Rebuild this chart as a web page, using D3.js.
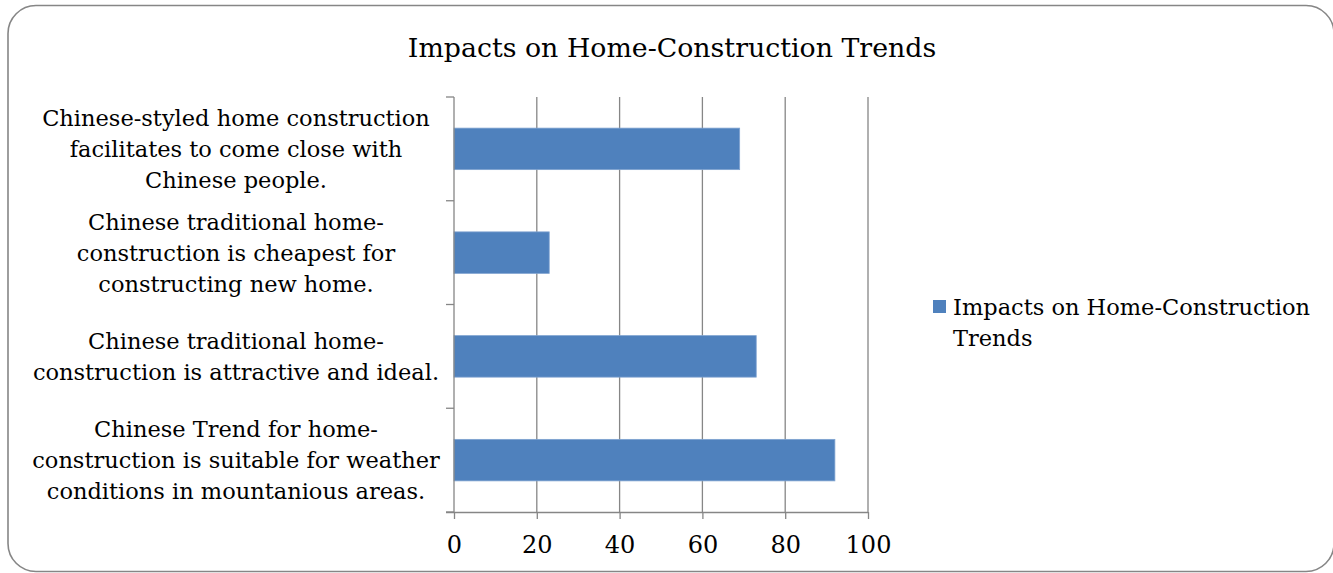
<!DOCTYPE html>
<html>
<head>
<meta charset="utf-8">
<script src="https://cdn.jsdelivr.net/npm/d3@7"></script>
<style>
  html, body { margin: 0; padding: 0; background: #fff; }
  svg { display: block; }
  text { font-family: "DejaVu Serif", "Liberation Serif", serif; fill: #000; }
</style>
</head>
<body>
<svg id="chart" width="1333" height="573"></svg>
<script>
// Survey categories (line breaks as laid out beside the axis), top to bottom
const categories = [
  "Chinese-styled home construction\nfacilitates to come close with\nChinese people.",
  "Chinese traditional home-\nconstruction is cheapest for\nconstructing new home.",
  "Chinese traditional home-\nconstruction is attractive and ideal.",
  "Chinese Trend for home-\nconstruction is suitable for weather\nconditions in mountanious areas."
];
const values = [69, 23, 73, 92];
const xTicks = [0, 20, 40, 60, 80, 100];
const seriesName = "Impacts on Home-Construction Trends";
const chartTitle = "Impacts on Home-Construction Trends";

const svg = d3.select("#chart");
const plot = { left: 454, right: 868, top: 97, bottom: 512 };
const barColor = "#4F81BD";
const gridColor = "#868686";
const fontSize = 22.5;

// outer frame
svg.append("rect")
  .attr("x", 8).attr("y", 5.5)
  .attr("width", 1326).attr("height", 566)
  .attr("rx", 28).attr("ry", 28)
  .attr("fill", "#fff").attr("stroke", gridColor).attr("stroke-width", 1.6);

// title
svg.append("text")
  .attr("x", 672).attr("y", 57)
  .attr("text-anchor", "middle")
  .attr("font-size", 26.8)
  .text(chartTitle);

const x = d3.scaleLinear().domain([0, 100]).range([plot.left, plot.right]);
const y = d3.scaleBand().domain(categories).range([plot.top, plot.bottom]).paddingInner(0.6).paddingOuter(0.3);
const yEdges = d3.scaleLinear().domain([0, categories.length]).range([plot.top, plot.bottom]);

// vertical gridlines
svg.append("g").selectAll("line")
  .data(xTicks.filter(d => d > 0))
  .join("line")
  .attr("x1", d => x(d)).attr("x2", d => x(d))
  .attr("y1", plot.top).attr("y2", plot.bottom)
  .attr("stroke", gridColor).attr("stroke-width", 1.3);

// bars
svg.append("g").selectAll("rect")
  .data(categories)
  .join("rect")
  .attr("x", x(0))
  .attr("y", d => y(d))
  .attr("width", (d, i) => x(values[i]) - x(0))
  .attr("height", y.bandwidth())
  .attr("fill", barColor)
  .attr("stroke", "#7FA3D0").attr("stroke-width", 0.8);

// x axis
const xAxis = d3.axisBottom(x).tickValues(xTicks).tickSize(7).tickPadding(17).tickFormat(d3.format("d"));
const gx = svg.append("g").attr("transform", `translate(0,${plot.bottom})`).call(xAxis);
gx.select(".domain").attr("stroke", gridColor).attr("stroke-width", 1.3)
  .attr("d", `M${plot.left - 8},0.5H${plot.right}`);
gx.selectAll(".tick line").attr("stroke", gridColor).attr("stroke-width", 1.3);
gx.selectAll(".tick text").attr("font-size", 24).attr("font-family", "DejaVu Serif").attr("fill", "#000");

// y axis: tick marks at category boundaries
const gy = svg.append("g");
gy.append("line")
  .attr("x1", plot.left).attr("x2", plot.left)
  .attr("y1", plot.top).attr("y2", plot.bottom)
  .attr("stroke", gridColor).attr("stroke-width", 1.3);
gy.selectAll("line.tk")
  .data(d3.range(categories.length + 1))
  .join("line").attr("class", "tk")
  .attr("x1", plot.left - 8).attr("x2", plot.left)
  .attr("y1", d => yEdges(d)).attr("y2", d => yEdges(d))
  .attr("stroke", gridColor).attr("stroke-width", 1.3);

// category labels
const lineH = 31;
const labelG = svg.append("g");
categories.forEach((c, i) => {
  const lines = c.split("\n");
  const cy = y(c) + y.bandwidth() / 2;
  const t = labelG.append("text")
    .attr("text-anchor", "middle")
    .attr("font-size", fontSize);
  lines.forEach((ln, j) => {
    t.append("tspan")
      .attr("x", 236)
      .attr("y", cy + (j - (lines.length - 1) / 2) * lineH + fontSize * 0.36)
      .text(ln);
  });
});

// legend
const lg = svg.append("g");
lg.append("rect").attr("x", 933).attr("y", 300).attr("width", 13).attr("height", 13).attr("fill", barColor);
const lt = lg.append("text").attr("font-size", fontSize);
lt.append("tspan").attr("x", 953).attr("y", 315).text("Impacts on Home-Construction");
lt.append("tspan").attr("x", 953).attr("y", 346).text("Trends");
</script>
</body>
</html>
